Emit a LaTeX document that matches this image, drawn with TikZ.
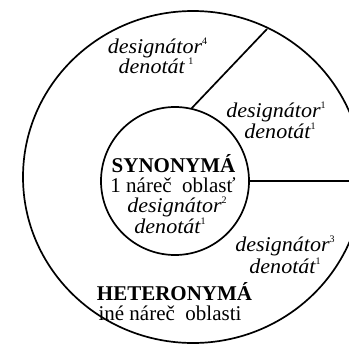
\documentclass[tikz,border=0pt]{standalone}
\usepackage{fontspec}
\setmainfont{Liberation Serif}[ItalicFeatures={FakeStretch=1.05}]
\newcommand{\supr}[1]{\raisebox{0.42em}{\fontsize{10}{10}\selectfont\upshape #1}}
\begin{document}
\begin{tikzpicture}[x=1pt,y=-1pt,
  lbl/.style={inner sep=0pt, anchor=base, font=\fontsize{21}{21}\selectfont},
  it/.style={lbl, font=\fontsize{21}{21}\selectfont\itshape},
  bd/.style={lbl, font=\fontsize{21}{21}\selectfont\bfseries},
  ln/.style={line width=1.7pt, black}]
\useasboundingbox (0,0) rectangle (349,349);
\begin{scope}
  \clip (0,0) rectangle (349,349);
  \draw[ln] (193,177) ellipse [x radius=170pt, y radius=166pt];
  \node[circle, draw, ln, minimum size=148pt, inner sep=0pt] (inner) at (175,181) {};
  \coordinate (diagTop) at (267,29);
  \coordinate (rightEnd) at (352,181);
  \draw[ln] (inner.77) -- (diagTop);
  \draw[ln] (inner.east) -- (rightEnd);
\end{scope}
% top-left sector
\node[it] (d4) at (157.5,53) {designátor\supr{4}};
\node[it] (n4) at (156,73) {denotát\,\supr{1}};
% right upper sector
\node[it] (d1) at (276,117) {designátor\supr{1}};
\node[it] (n1) at (280,138) {denotát\supr{1}};
% center
\node[bd] (syn) at (173.5,172) {SYNONYMÁ};
\node[lbl] (obl) at (173,192) {1 náreč\ \ oblasť};
\node[it] (d2) at (177,212) {designátor\supr{2}};
\node[it] (n2) at (170,233) {denotát\supr{1}};
% right lower sector
\node[it] (d3) at (285,251) {designátor\supr{3}};
\node[it] (n3) at (285,273) {denotát\supr{1}};
% bottom
\node[bd] (het) at (174.5,300) {HETERONYMÁ};
\node[lbl] (ine) at (170,320) {iné náreč\ \ oblasti};
\end{tikzpicture}
\end{document}
